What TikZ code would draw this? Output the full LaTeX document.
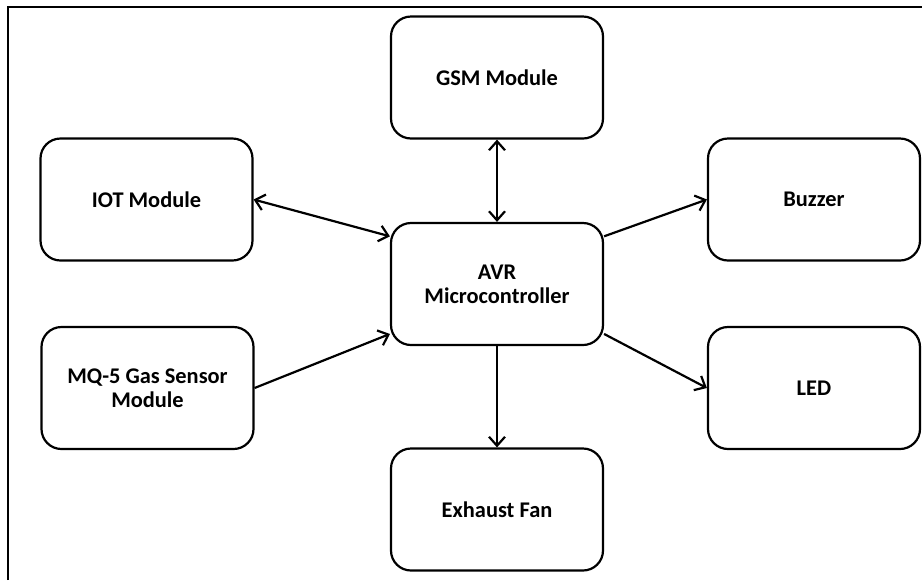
\documentclass[tikz,border=0pt]{standalone}
\usepackage{fontspec}
\setmainfont{Carlito}
\usetikzlibrary{arrows.meta}
\definecolor{blockline}{RGB}{0, 0, 0}

\begin{document}
\begin{tikzpicture}[x=0.5pt, y=-0.5pt,
    block/.style={draw=blockline, line width=1.1pt, rounded corners=10pt,
        minimum width=106pt, minimum height=61pt, align=center,
        font=\bfseries\fontsize{11.2pt}{12pt}\selectfont},
    link/.style={line width=1.1pt, -{Straight Barb[length=4.5pt,width=8pt]}},
    duplex/.style={link, {Straight Barb[length=4.5pt,width=8pt]}-{Straight Barb[length=4.5pt,width=8pt]}}]
    \useasboundingbox (0,0) rectangle (922,580);
    % outer frame
    \draw[line width=1.1pt] (8,580) -- (8,7) -- (922,7);

    % blocks
    \node[block] (gsm) at (497,77.5) {GSM Module};
    \node[block] (iot) at (146.5,199.5) {IOT Module};
    \node[block] (buzzer) at (814,199.5) {Buzzer};
    \node[block] (avr) at (497,284) {AVR\\Microcontroller};
    \node[block] (mq) at (147.5,388) {MQ-5 Gas Sensor\\Module};
    \node[block] (led) at (814,388) {LED};
    \node[block] (fan) at (497,509.5) {Exhaust Fan};

    % connections
    \draw[duplex] (iot.east) -- (avr.156);
    \draw[duplex] (gsm.south) -- (avr.north);
    \draw[link] (avr.24) -- (buzzer.west);
    \draw[link] (mq.east) -- (avr.205);
    \draw[link] (avr.-25) -- (led.west);
    \draw[link] (avr.south) -- (fan.north);
\end{tikzpicture}
\end{document}
